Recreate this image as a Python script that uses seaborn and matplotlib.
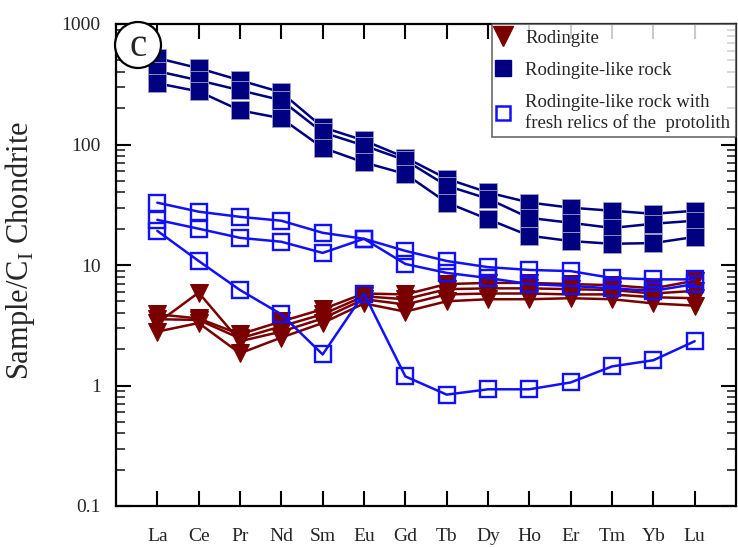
import matplotlib
matplotlib.use("Agg")
import matplotlib.pyplot as plt
import matplotlib.patches as mpatches
from matplotlib.lines import Line2D
from matplotlib.ticker import LogLocator, NullFormatter
import numpy as np
import pandas as pd
import seaborn as sns

ree = ['La', 'Ce', 'Pr', 'Nd', 'Sm', 'Eu', 'Gd', 'Tb', 'Dy', 'Ho', 'Er', 'Tm', 'Yb', 'Lu']

# Rodingite-like rock (filled navy squares)
rlr1 = [521, 430, 341, 271, 139, 108, 78, 52, 40, 33, 29.9, 28.2, 26.6, 28.2]
rlr2 = [406, 341, 282, 233, 126, 98, 74, 45.5, 35.5, 24.6, 22.4, 20.3, 22, 23.3]
rlr3 = [322, 276, 192, 165, 94, 71, 57, 33, 24, 17.5, 15.8, 15, 15.2, 17.1]

# Rodingite-like rock with fresh relics of the protolith (open blue squares)
fresh1 = [32.9, 27.7, 25.1, 23.3, 18.5, 16.5, 13.1, 10.8, 9.6, 9.1, 8.9, 7.8, 7.6, 7.6]
fresh2 = [23.7, 20, 16.8, 15.6, 12.6, 16.5, 10.2, 8.6, 7.8, 6.95, 6.7, 6.4, 6.1, 6.95]
fresh3 = [19.2, 10.8, 6.2, 3.9, 1.81, 5.8, 1.19, 0.84, 0.93, 0.93, 1.06, 1.44, 1.62, 2.33]

# Rodingite (dark red down triangles)
rod1 = [3.9, 3.6, 2.66, 3.4, 4.3, 5.8, 5.7, 6.95, 7.1, 7.1, 6.95, 6.8, 6.4, 7.4]
rod2 = [3.55, 3.5, 2.46, 3.1, 3.9, 5.5, 5.2, 6.3, 6.4, 6.4, 6.3, 6.2, 5.8, 6.1]
rod3 = [3.3, 5.9, 2.33, 2.8, 3.6, 5.2, 4.7, 5.7, 5.8, 5.8, 5.7, 5.7, 5.4, 5.3]
rod4 = [2.8, 3.3, 1.85, 2.5, 3.3, 4.8, 4.1, 5.0, 5.2, 5.2, 5.3, 5.2, 4.8, 4.6]

yticks = [0.1, 1, 10, 100, 1000]
ytick_labels = ['0.1', '1', '10', '100', '1000']

legend_labels = ['Rodingite', 'Rodingite-like rock',
                 'Rodingite-like rock with\nfresh relics of the  protolith']

NAVY = '#000080'
BLUE = '#1010ff'
MAROON = '#7a0000'

sns.set_theme(style='ticks')
plt.rcParams['font.family'] = ['Liberation Serif', 'DejaVu Serif']
plt.rcParams['mathtext.fontset'] = 'custom'
plt.rcParams['mathtext.rm'] = 'Liberation Serif'


def long_df(series_list, prefix):
    rows = []
    for i, s in enumerate(series_list):
        for j, v in enumerate(s):
            rows.append({'pos': j + 1, 'value': v, 'sample': f'{prefix}{i}'})
    return pd.DataFrame(rows)


df_rod = long_df([rod1, rod2, rod3, rod4], 'rod')
df_fresh = long_df([fresh1, fresh2, fresh3], 'fr')
df_rlr = long_df([rlr1, rlr2, rlr3], 'rlr')

fig = plt.figure(figsize=(7.38, 5.47), dpi=100)
ax = fig.add_axes([116 / 738, (547 - 506) / 547, (736 - 116) / 738, (506 - 24) / 547])

sns.lineplot(data=df_rod, x='pos', y='value', units='sample', estimator=None,
             color=MAROON, lw=1.8, marker='v', markersize=12.5,
             markerfacecolor=MAROON, markeredgecolor=MAROON, legend=False, ax=ax, sort=False)
sns.lineplot(data=df_fresh, x='pos', y='value', units='sample', estimator=None,
             color=BLUE, lw=1.8, marker='s', markersize=11,
             markerfacecolor='none', markeredgecolor=BLUE, markeredgewidth=1.7,
             legend=False, ax=ax, sort=False)
sns.lineplot(data=df_rlr, x='pos', y='value', units='sample', estimator=None,
             color=NAVY, lw=1.8, marker='s', markersize=12.5,
             markerfacecolor=NAVY, markeredgecolor='#a0a0c8', markeredgewidth=0.6,
             legend=False, ax=ax, sort=False)

ax.set_yscale('log')
ax.set_ylim(0.1, 1000)
ax.set_xlim(0, 15)
ax.set_xticks(range(1, len(ree) + 1))
ax.set_xticklabels(ree, fontsize=14)
ax.set_yticks(yticks)
ax.set_yticklabels(ytick_labels, fontsize=14)
ax.yaxis.set_minor_locator(LogLocator(base=10, subs=np.arange(2, 10)))
ax.yaxis.set_minor_formatter(NullFormatter())
ax.tick_params(axis='both', which='major', direction='in', length=11, width=1.5,
               top=True, right=True, color='black')
ax.tick_params(axis='y', which='minor', direction='in', length=6.5, width=1.2,
               right=True, left=True)
ax.tick_params(axis='x', which='major', pad=16)
ax.tick_params(axis='y', which='major', pad=11)
for sp in ax.spines.values():
    sp.set_linewidth(1.6)
    sp.set_color('black')
ax.set_xlabel('')
ax.set_ylabel(r'Sample/C$_\mathregular{I}$ Chondrite', fontsize=22)
ax.yaxis.set_label_coords(-0.128, 0.53)

handles = [
    Line2D([], [], linestyle='none', marker='v', markersize=14, color=MAROON),
    Line2D([], [], linestyle='none', marker='s', markersize=12, color=NAVY),
    Line2D([], [], linestyle='none', marker='s', markersize=10, markerfacecolor='white',
           markeredgecolor=BLUE, markeredgewidth=1.8),
]
leg = ax.legend(handles, legend_labels, loc='upper right', bbox_to_anchor=(1.0, 1.0),
                borderaxespad=0.0, fontsize=13.5, frameon=True, fancybox=False,
                handlelength=0.6, handletextpad=0.9, labelspacing=0.8,
                borderpad=0.3)
leg.get_frame().set_edgecolor('#444444')
leg.get_frame().set_linewidth(1.2)

circ = mpatches.Ellipse((138 / 738, 1 - 45 / 547), width=46 / 738, height=46 / 547,
                        transform=fig.transFigure, facecolor='white', edgecolor='black',
                        linewidth=1.6, zorder=10)
fig.patches.append(circ)
fig.text(138 / 738, 1 - 47 / 547, 'c', ha='center', va='center', fontsize=28,
         zorder=11)

fig.savefig('out.png', dpi=100)
